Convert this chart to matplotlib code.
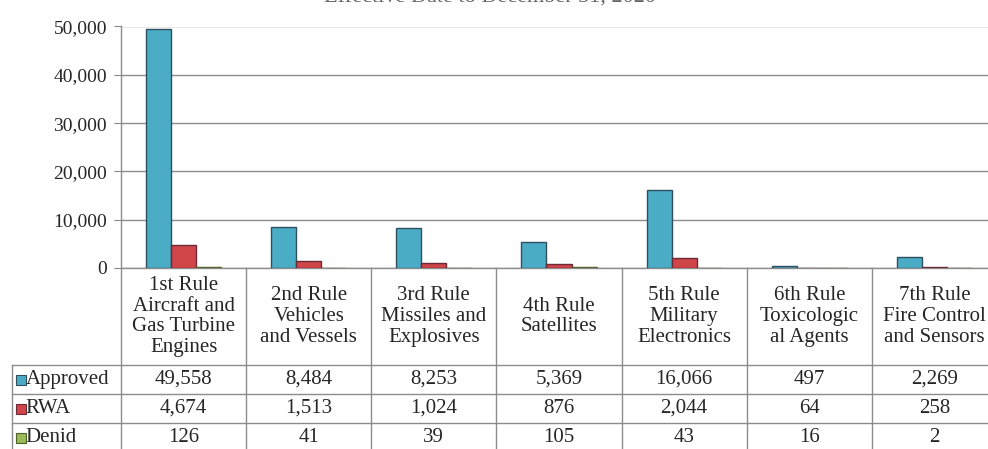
import matplotlib
matplotlib.use("Agg")
import matplotlib.pyplot as plt
import numpy as np

plt.rcParams["font.family"] = ["Liberation Serif", "DejaVu Serif"]

categories = [
    "1st Rule\nAircraft and\nGas Turbine\nEngines",
    "2nd Rule\nVehicles\nand Vessels",
    "3rd Rule\nMissiles and\nExplosives",
    "4th Rule\nSatellites",
    "5th Rule\nMilitary\nElectronics",
    "6th Rule\nToxicologic\nal Agents",
    "7th Rule\nFire Control\nand Sensors",
]
series_names = ["Approved", "RWA", "Denid"]
approved = [49558, 8484, 8253, 5369, 16066, 497, 2269]
rwa = [4674, 1513, 1024, 876, 2044, 64, 258]
denid = [126, 41, 39, 105, 43, 16, 2]
yticks = [0, 10000, 20000, 30000, 40000, 50000]
title = "Effective Date to December 31, 2020"

colors = ["#4BACC6", "#CF4548", "#9BBB59"]
edges = ["#2F4F5F", "#6B2A35", "#4F6228"]
grid_col = "#8C8C8C"
text_col = "#262626"

W, H = 988, 449
fig = plt.figure(figsize=(W / 100, H / 100), dpi=100)

# pixel geometry
x0, x1 = 121, 997
y_top, y_zero = 26.5, 268
unit = (x1 - x0) / len(categories)

ax = fig.add_axes([x0 / W, 1 - y_zero / H, (x1 - x0) / W, (y_zero - y_top) / H])
x = np.arange(len(categories))
bw = 0.2
for k, vals in enumerate([approved, rwa, denid]):
    ax.bar(x + (k - 1) * bw, vals, bw, color=colors[k], edgecolor=edges[k],
           linewidth=1.0, zorder=3)

ax.set_xlim(-0.5, len(categories) - 0.5)
ax.set_ylim(0, 50000)
ax.set_yticks(yticks)
ax.set_yticklabels([f"{v:,}" for v in yticks], fontsize=14, color=text_col)
ax.set_xticks([])
ax.yaxis.grid(True, color=grid_col, linewidth=1.0, zorder=0)
ax.tick_params(axis="y", direction="out", length=5, color=grid_col, pad=5)
for s in ["top", "right"]:
    ax.spines[s].set_visible(False)
for s in ["left", "bottom"]:
    ax.spines[s].set_color(grid_col)
    ax.spines[s].set_linewidth(1.0)

# data table below the axis
row_h = 29
head_h = 97 / row_h
n_rows = len(series_names)
tab_left_px = 12
tab_bottom_px = y_zero + (head_h + n_rows) * row_h
tx = fig.add_axes([tab_left_px / W, 1 - tab_bottom_px / H,
                   (x1 - tab_left_px) / W, (tab_bottom_px - y_zero) / H])
left = -0.5 - (x0 - tab_left_px) / unit
tx.set_xlim(left, len(categories) - 0.5)
tx.set_ylim(head_h + n_rows, 0)
tx.axis("off")

lc = dict(color=grid_col, linewidth=1.0, clip_on=False)
for k in range(len(categories) + 1):
    tx.plot([k - 0.5, k - 0.5], [0, head_h + n_rows], **lc)
tx.plot([left, left], [head_h, head_h + n_rows], **lc)
for r in range(n_rows):
    tx.plot([left, len(categories) - 0.5], [head_h + r, head_h + r], **lc)

for i, lab in enumerate(categories):
    tx.text(i, head_h / 2, lab, ha="center", va="center", fontsize=15,
            linespacing=1.13, color=text_col)

for r, (name, vals) in enumerate(zip(series_names, [approved, rwa, denid])):
    yc = head_h + r + 0.5
    tx.plot([left + 0.07], [yc], marker="s", markersize=6.5, color=colors[r],
            markeredgecolor=edges[r], markeredgewidth=0.8, clip_on=False)
    tx.text(left + 0.11, yc, name, ha="left", va="center", fontsize=15,
            color=text_col)
    for i, v in enumerate(vals):
        tx.text(i, yc, f"{v:,}", ha="center", va="center", fontsize=15,
                color=text_col)

# title, mostly cut off by the top edge as in the source image
fig.text(490 / W, 1 - 3 / H, title, ha="center", va="baseline", fontsize=16,
         color="#666666")

fig.savefig("out.png", dpi=100)
